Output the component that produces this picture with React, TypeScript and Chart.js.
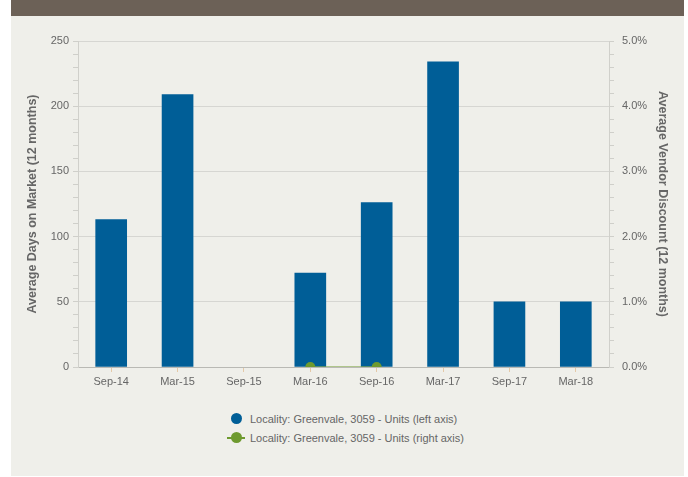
import React, { useEffect, useRef } from "react";
import { Chart, registerables } from "chart.js";

Chart.register(...registerables);

const categories = ["Sep-14", "Mar-15", "Sep-15", "Mar-16", "Sep-16", "Mar-17", "Sep-17", "Mar-18"];
const daysOnMarket = [113, 209, null, 72, 126, 234, 50, 50];
const vendorDiscount = [null, null, null, 0, 0, null, null, null];
const leftLabel = "Locality: Greenvale, 3059 - Units (left axis)";
const rightLabel = "Locality: Greenvale, 3059 - Units (right axis)";
const leftTitle = "Average Days on Market (12 months)";
const rightTitle = "Average Vendor Discount (12 months)";

const BLUE = "#005e97";
const GREEN = "#6e9a2f";
const FONT = "'Liberation Sans', Arial, sans-serif";

export default function App() {
  const ref = useRef<HTMLCanvasElement | null>(null);

  useEffect(() => {
    document.body.style.margin = "0";
    const ctx = ref.current!;
    const chart = new Chart(ctx, {
      data: {
        labels: categories,
        datasets: [
          {
            type: "line",
            label: rightLabel,
            data: vendorDiscount,
            yAxisID: "y1",
            borderColor: GREEN,
            backgroundColor: GREEN,
            borderWidth: 1,
            pointRadius: 5,
            pointHoverRadius: 5,
            pointBorderWidth: 0,
            spanGaps: false,
            order: 0,
          },
          {
            type: "bar",
            label: leftLabel,
            data: daysOnMarket,
            yAxisID: "y",
            backgroundColor: BLUE,
            borderWidth: 0,
            barThickness: 31,
            order: 1,
          },
        ],
      },
      options: {
        responsive: false,
        animation: false,
        layout: { padding: { top: 25, bottom: 0, left: 0, right: 0 } },
        plugins: {
          legend: { display: false },
          tooltip: { enabled: false },
        },
        scales: {
          x: {
            grid: {
              drawOnChartArea: false,
              offset: false,
              color: "#e4c9a8",
              tickLength: 5,
            },
            border: { display: true, color: "#b9b9b4" },
            ticks: {
              color: "#666",
              font: { family: FONT, size: 11 },
              padding: 3,
              maxRotation: 0,
            },
            afterFit: (s: any) => {
              s.height = 33;
            },
          },
          y: {
            position: "left",
            min: 0,
            max: 250,
            grid: {
              color: (c: any) => (c.tick && c.tick.value % 50 === 0 ? "#d6d6d2" : "rgba(0,0,0,0)"),
              tickColor: "#cfcfca",
              tickLength: 5,
            },
            border: { display: true, color: "#d0d0cb" },
            ticks: {
              stepSize: 10,
              autoSkip: false,
              color: "#666",
              font: { family: FONT, size: 11 },
              padding: 4,
              callback: (v: any) => (v % 50 === 0 ? String(v) : ""),
            },
            title: {
              display: true,
              text: leftTitle,
              color: "#666",
              font: { family: FONT, size: 12.5, weight: "bold" },
              padding: { top: 14, bottom: 0 },
            },
            afterFit: (s: any) => {
              s.width = 67;
            },
          },
          y1: {
            position: "right",
            min: 0,
            max: 0.05,
            grid: {
              drawOnChartArea: false,
              tickColor: "#cfcfca",
              tickLength: 5,
            },
            border: { display: true, color: "#d0d0cb" },
            ticks: {
              stepSize: 0.002,
              autoSkip: false,
              color: "#666",
              font: { family: FONT, size: 11 },
              padding: 8,
              callback: (v: any) => {
                const p = Math.round(v * 1000);
                return p % 10 === 0 ? (p / 10).toFixed(1) + "%" : "";
              },
            },
            title: {
              display: true,
              text: rightTitle,
              color: "#666",
              font: { family: FONT, size: 12.5, weight: "bold" },
              padding: { top: 14, bottom: 0 },
            },
            afterFit: (s: any) => {
              s.width = 75;
            },
          },
        },
      },
    } as any);
    return () => chart.destroy();
  }, []);

  const legendText: React.CSSProperties = {
    fontFamily: FONT,
    fontSize: 11,
    color: "#666",
    marginLeft: 5,
  };

  return (
    <div
      style={{
        position: "absolute",
        left: 11,
        top: 0,
        width: 673,
        height: 476,
        background: "#efefea",
      }}
    >
      <div style={{ height: 16, background: "#6c6157" }} />
      <canvas ref={ref} width={673} height={384} style={{ display: "block", width: 673, height: 384 }} />
      <div style={{ position: "absolute", left: 216, top: 409 }}>
        <div style={{ display: "flex", alignItems: "center", height: 19 }}>
          <div style={{ width: 18, display: "flex", justifyContent: "center" }}>
            <div style={{ width: 11, height: 11, borderRadius: "50%", background: BLUE }} />
          </div>
          <span style={legendText}>{leftLabel}</span>
        </div>
        <div style={{ display: "flex", alignItems: "center", height: 19 }}>
          <div style={{ width: 18, position: "relative", height: 11 }}>
            <div style={{ position: "absolute", left: 0, top: 5, width: 18, height: 2, background: GREEN }} />
            <div style={{ position: "absolute", left: 4, top: 0, width: 11, height: 11, borderRadius: "50%", background: GREEN }} />
          </div>
          <span style={legendText}>{rightLabel}</span>
        </div>
      </div>
    </div>
  );
}
